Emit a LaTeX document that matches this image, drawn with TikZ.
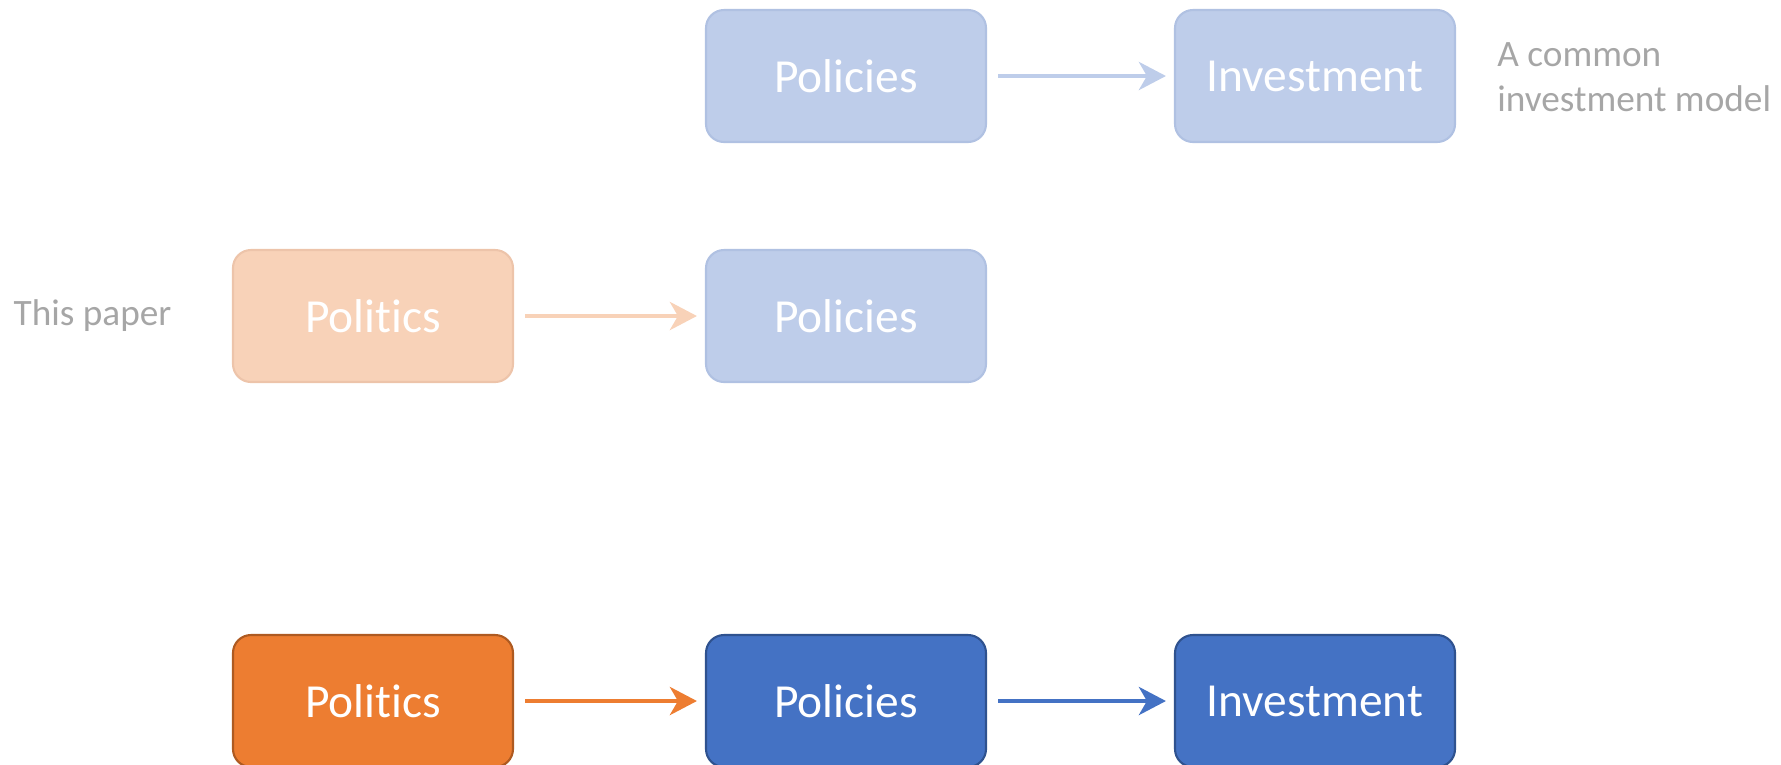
\documentclass[tikz,border=0pt]{standalone}
\usepackage{fontspec}
\setmainfont{Carlito}[Ligatures={NoCommon}]
\usepackage{tikz}
\usetikzlibrary{arrows.meta, calc}
\usepackage{xcolor}

\definecolor{darkblue}{HTML}{4472C4}
\definecolor{darkblueline}{HTML}{2F528F}
\definecolor{darkorange}{HTML}{ED7D31}
\definecolor{darkorangeline}{HTML}{AE5A21}
\definecolor{paleblue}{HTML}{BECDEA}
\definecolor{paleblueline}{HTML}{B0C1E2}
\definecolor{paleorange}{HTML}{F8D2B8}
\definecolor{paleorangeline}{HTML}{EDC4AA}
\definecolor{notegray}{HTML}{A6A6A6}

\begin{document}
\begin{tikzpicture}[
        box/.style={draw, rounded corners=0.18cm, minimum width=2.8cm, minimum height=1.32cm, line width=0.6pt, text=white, font=\fontsize{13.5}{16}\selectfont},
        link/.style={line width=1.4pt, -{Stealth[length=0.27cm, width=0.28cm, inset=0.08cm]}, shorten <=0.11cm, shorten >=0.08cm},
        note/.style={text=notegray, font=\fontsize{10.6}{12.8}\selectfont, align=left}
    ]

                \coordinate (A) at (0, 0);
                \useasboundingbox ($ (A) + (0, -7.64) $) rectangle ($ (A) + (17.81, 0) $);
                \clip ($ (A) + (0, -7.64) $) rectangle ($ (A) + (17.81, 0) $);

                % common model
                \node[box, fill=paleblue, draw=paleblueline] (policiesTop) at ($ (A) + (8.46, -0.76) $) {Policies};
                \node[box, fill=paleblue, draw=paleblueline] (investmentTop) at ($ (A) + (13.15, -0.76) $) {Investment};
                \node[note, anchor=west] (commonNote) at ($ (A) + (14.85, -0.77) $) {A common\\investment model};

                \draw[link, paleblue] (policiesTop) -- (investmentTop);

                % this paper
                \node[box, fill=paleorange, draw=paleorangeline] (politicsMid) at ($ (A) + (3.73, -3.16) $) {Politics};
                \node[box, fill=paleblue, draw=paleblueline] (policiesMid) at ($ (A) + (8.46, -3.16) $) {Policies};
                \node[note, anchor=west, inner sep=0pt] (paperNote) at ($ (A) + (0.13, -3.16) $) {This paper};

                \draw[link, paleorange] (politicsMid) -- (policiesMid);

                % full chain
                \node[box, fill=darkorange, draw=darkorangeline] (politicsLow) at ($ (A) + (3.73, -7.01) $) {Politics};
                \node[box, fill=darkblue, draw=darkblueline] (policiesLow) at ($ (A) + (8.46, -7.01) $) {Policies};
                \node[box, fill=darkblue, draw=darkblueline] (investmentLow) at ($ (A) + (13.15, -7.01) $) {Investment};

                \draw[link, darkorange] (politicsLow) -- (policiesLow);
                \draw[link, darkblue] (policiesLow) -- (investmentLow);

\end{tikzpicture}
\end{document}
